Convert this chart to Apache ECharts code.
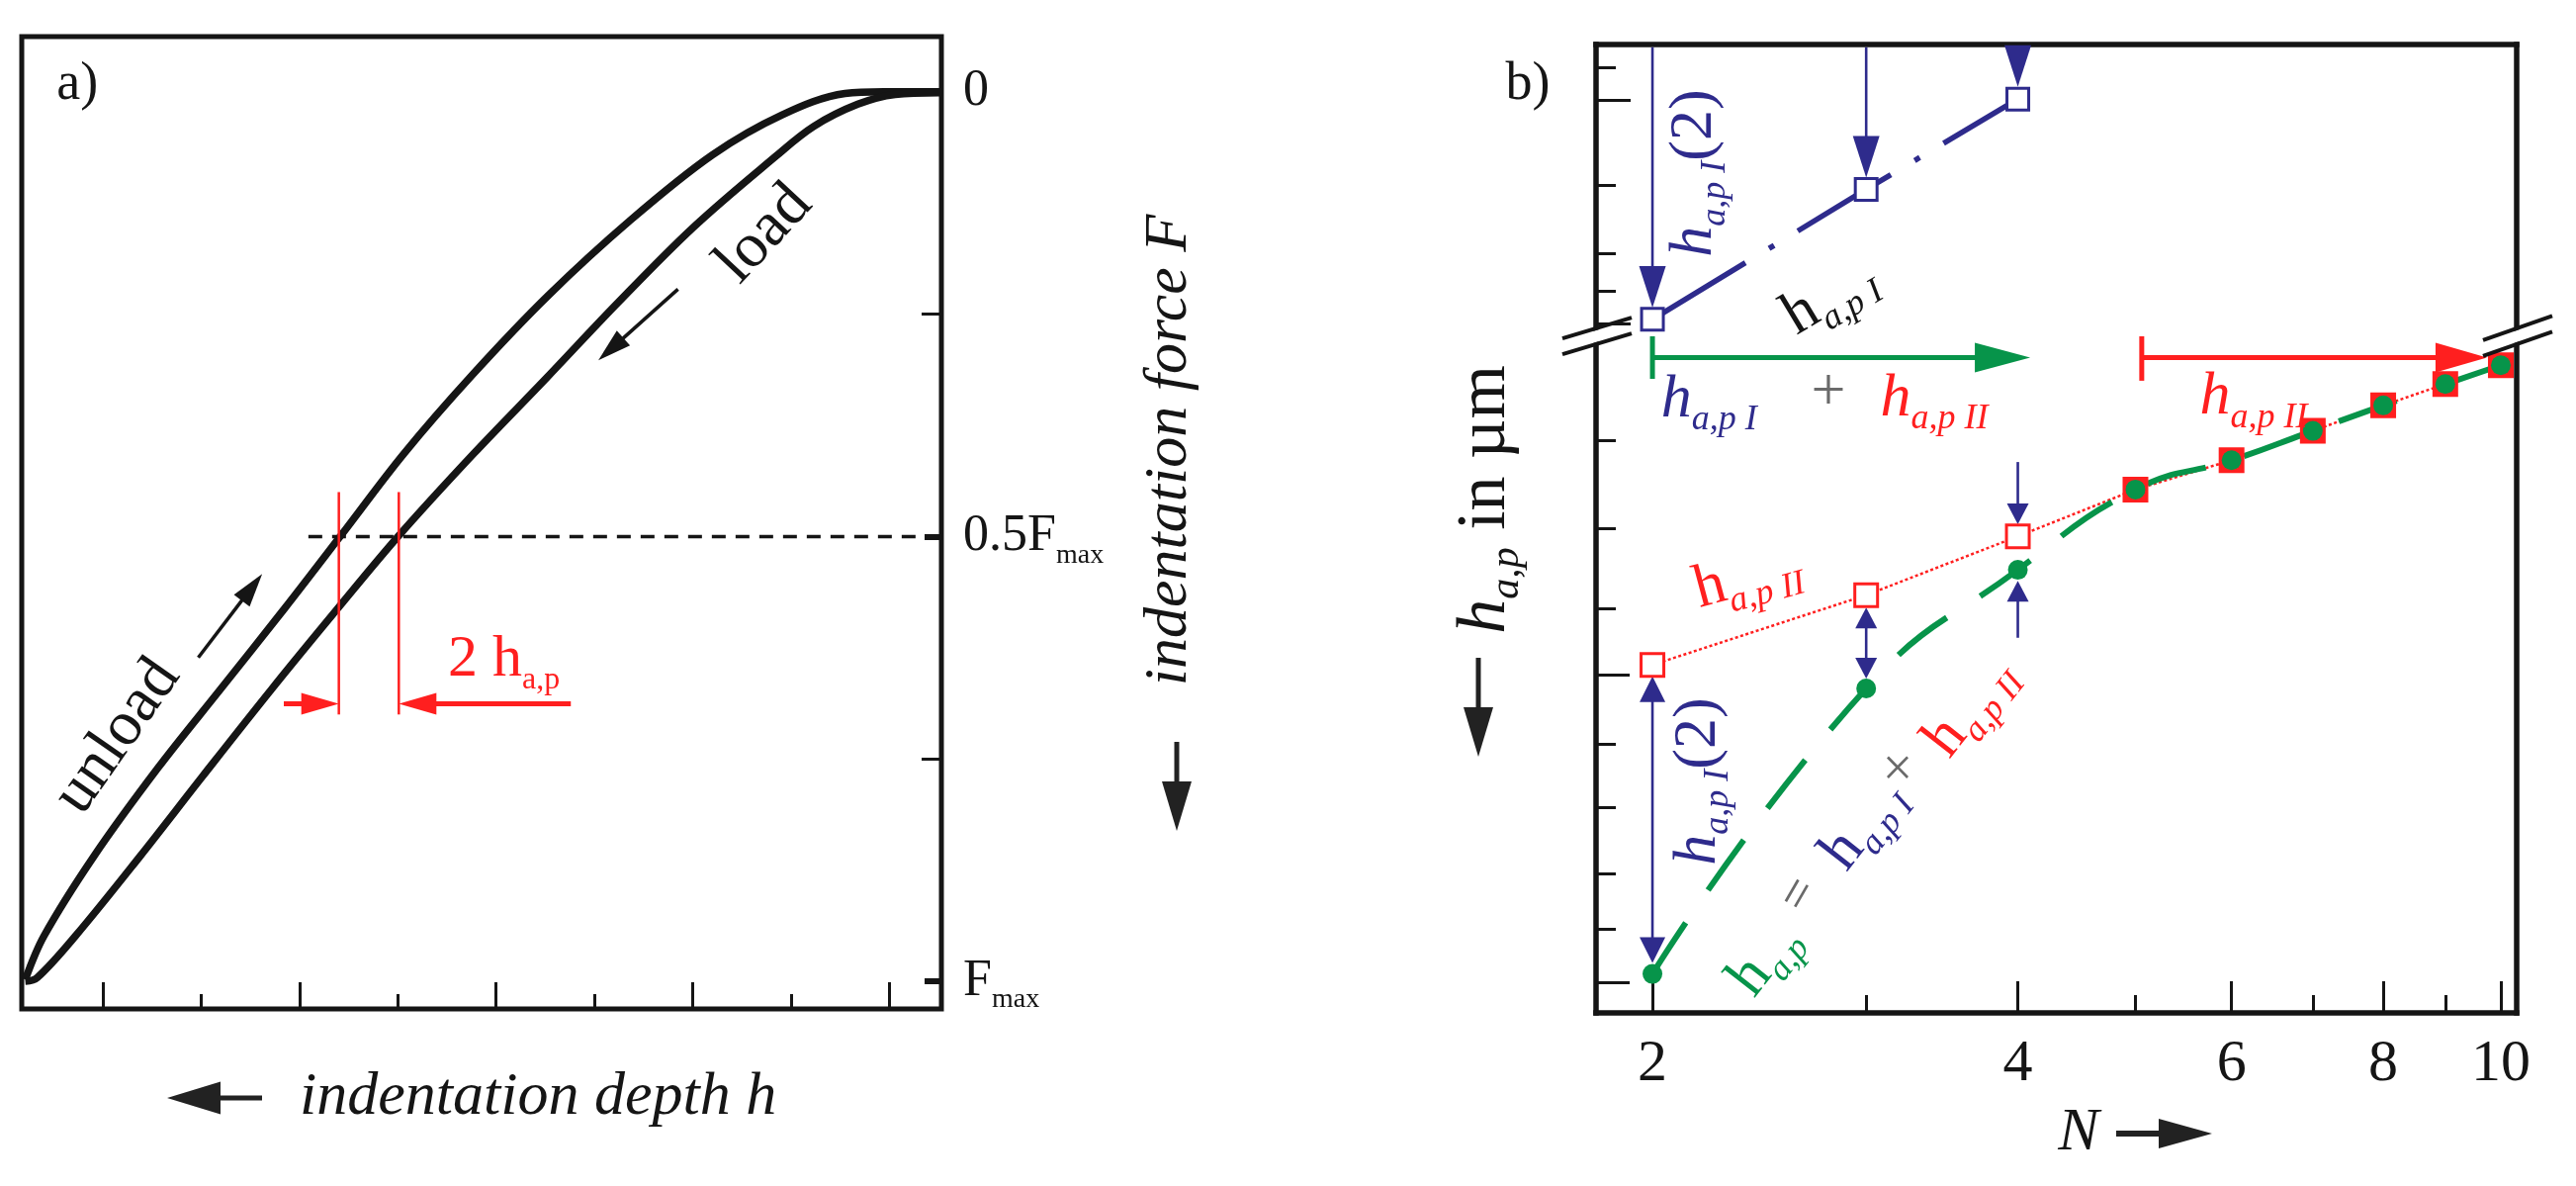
<!DOCTYPE html>
<html>
<head>
<meta charset="utf-8">
<title>Indentation loop and h_a,p versus N</title>
<script src="https://cdn.jsdelivr.net/npm/echarts@6.0.0/dist/echarts.min.js"></script>
<style>
  html, body { margin: 0; padding: 0; background: #ffffff; }
  #chart { width: 2605px; height: 1199px; }
</style>
</head>
<body>
<div id="chart"></div>
<script>
// ================= VALUES =================
// ---- panel a: force–depth loop (depth in tick units, force as fraction of Fmax)
const unloadDepth = [0.02, 0.59, 0.98, 1.62, 2.33, 3.16, 4.00, 4.77, 5.47, 6.11, 6.69, 7.33, 7.97, 8.62, 9.13, 9.32];
const unloadForce = [0.000, 0.000, 0.002, 0.026, 0.071, 0.144, 0.229, 0.318, 0.407, 0.499, 0.582, 0.671, 0.760, 0.859, 0.949, 0.998];
const loadDepth = [0.02, 0.47, 0.85, 1.30, 1.69, 2.52, 3.29, 4.02, 4.76, 5.52, 6.15, 6.81, 7.52, 8.15, 8.81, 9.20, 9.32];
const loadForce = [0.001, 0.003, 0.014, 0.039, 0.073, 0.152, 0.237, 0.322, 0.407, 0.499, 0.582, 0.671, 0.770, 0.859, 0.949, 0.996, 1.000];
const depthRange = [0, 9.356];
const forceRange = [-0.062, 1.031];
const depthTicksLong = [0.53, 2.53, 4.53, 6.53, 8.53];
const depthTicksShort = [1.53, 3.53, 5.53, 7.53];
const forceTicksThin = [0.25, 0.75];
const forceTicksThick = [0.5, 1];
const forceLabelValues = [0, 0.5, 1];
const halfLoadDepths = [6.44, 0];
const halfLoadForce = 0.5;
const hapMarkerDepths = [6.13, 5.52];
const hapMarkerForces = [0.45, 0.70];
const hapArrowForce = 0.688;
const hapArrowDepths = [[6.69, 6.13], [3.77, 5.52]];
const loadArrow = [2.68, 0.222, 3.49, 0.302];
const unloadArrow = [7.56, 0.636, 6.91, 0.542];

// ---- panel b: h_a,p versus N (log–log, broken ordinate)
const cyclesN = [2, 3, 4, 5, 6, 7, 8, 9, 10];
const hapI = [1.347, 1.170, 1.061];            // N = 2, 3, 4 (upper part of the broken axis)
const hapII = [1.276, 1.183, 1.110, 1.055, 1.022, 0.990, 0.963, 0.941, 0.922];
const hap = [1.784, 1.309, 1.151, 1.055, 1.022, 0.990, 0.963, 0.941, 0.922];
const nRange = [1.797, 10.305];
const upperRange = [1.0, 1.372];
const lowerRange = [0.8935, 1.861];
const nTickLabels = [2, 4, 6, 8, 10];
const nTicksMinor = [3, 5, 7, 9];
const upperTicksShort = [1.025, 1.165, 1.254, 1.307];
const upperTicksLong = [1.062, 1.353];
const lowerTicksShort = [1.0, 1.1, 1.2, 1.39, 1.49, 1.6, 1.7];
const lowerTicksLong = [1.29, 1.8];
// arrows: [N1, h1, N2, h2, headAtStart, headAtEnd]
const blueArrowsUpper = [[2, 1.003, 2, 1.330, 0, 1], [3, 1.003, 3, 1.155, 0, 1], [4, 1.003, 4, 1.047, 0, 1]];
const blueArrowN2 = [[2, 1.292, 2, 1.763, 1, 1]];
const blueArrowsN34 = [[3, 1.199, 3, 1.295, 1, 1], [4, 1.024, 4, 1.0955, 0, 1], [4, 1.239, 4, 1.165, 0, 1]];
const greenArrow = [[2, 0.9144, 4.095, 0.9144, 0, 1]];
const greenBar = [[2, 0.8935, 2, 0.9357, 0, 0]];
const redArrow = [[5.06, 0.9144, 9.74, 0.9144, 0, 1]];
const redBar = [[5.06, 0.8935, 5.06, 0.9376, 0, 0]];

// ================= STYLE / LAYOUT =================
const FONT = '"Liberation Serif", "DejaVu Serif", serif';
const INK = '#151515', NAVY = '#2e2b8c', RED = '#ff1f1f', GREEN = '#07944a', GRAY = '#6a6a6a';
const gridA = { left: 22, top: 37, width: 930, height: 983 };
const gridBUp = { left: 1614, top: 45, width: 931, height: 295 };
const gridBLo = { left: 1614, top: 340, width: 931, height: 684 };

function zrRich(F, s) {
  const colors = { N: NAVY, R: RED, G: GREEN, K: INK, Y: GRAY };
  const rich = {};
  Object.keys(colors).forEach(function (k) {
    const c = colors[k];
    rich['i' + k] = { fill: c, fontFamily: FONT, fontSize: F, fontStyle: 'italic', lineHeight: F + 14 };
    rich['u' + k] = { fill: c, fontFamily: FONT, fontSize: F, lineHeight: F + 14 };
    rich['s' + k] = { fill: c, fontFamily: FONT, fontSize: s, fontStyle: 'italic', lineHeight: s, verticalAlign: 'bottom' };
    rich['t' + k] = { fill: c, fontFamily: FONT, fontSize: s, lineHeight: s, verticalAlign: 'bottom' };
  });
  return rich;
}
const RICH_H = zrRich(62, 36);
const RICH_A = zrRich(60, 32);
const RICH_L = zrRich(64, 34);
const RICH_T = zrRich(54, 30);

// annotation texts (anchor in data units of the panel they belong to)
const labelsA = [
  { at: [8.79, -0.008], rot: 0, text: '{uK|a)}', rich: RICH_T },
  { at: [1.80, 0.160], rot: 47, text: '{uK|load}', rich: RICH_L },
  { at: [8.38, 0.725], rot: 55, text: '{uK|unload}', rich: RICH_L },
  { at: [5.02, 0.6385], rot: 0, align: 'left', text: '{uR|2 h}{tR|a,p}', rich: RICH_A }
];
const labelsUpper = [
  { at: [2.168, 1.1496], rot: 90, text: '{iN|h}{sN|a,p I}{uN|(2)}', rich: RICH_H },
  { at: [2.798, 1.3146], rot: 31, text: '{uK|h}{sK|a,p I}', rich: RICH_H }
];
const labelsLower = [
  { at: [2.226, 0.958], rot: 0, text: '{iN|h}{sN|a,p I}', rich: RICH_H },
  { at: [2.793, 0.951], rot: 0, text: '{uY|+}', rich: RICH_H },
  { at: [3.414, 0.957], rot: 0, text: '{iR|h}{sR|a,p II}', rich: RICH_H },
  { at: [6.256, 0.955], rot: 0, text: '{iR|h}{sR|a,p II}', rich: RICH_H },
  { at: [2.395, 1.161], rot: 15, text: '{uR|h}{sR|a,p II}', rich: RICH_H },
  { at: [3.652, 1.336], rot: 52, text: '{uR|h}{sR|a,p II}', rich: RICH_H },
  { at: [3.185, 1.432], rot: 0, text: '{uY|×}', rich: RICH_T },
  { at: [2.983, 1.518], rot: 52, text: '{uN|h}{sN|a,p I}', rich: RICH_H },
  { at: [2.645, 1.638], rot: 60, text: '{uY|=}', rich: RICH_T },
  { at: [2.473, 1.756], rot: 52, text: '{uG|h}{sG|a,p}', rich: RICH_H },
  { at: [2.181, 1.448], rot: 90, text: '{iN|h}{sN|a,p I}{uN|(2)}', rich: RICH_H }
];

// ================= HELPERS =================
function arrowSeries(name, xIdx, yIdx, data, st) {
  return {
    type: 'custom', name: name, xAxisIndex: xIdx, yAxisIndex: yIdx, clip: false, silent: true,
    z: st.z || 4, data: data,
    renderItem: function (params, api) {
      const a = api.coord([api.value(0), api.value(1)]);
      const b = api.coord([api.value(2), api.value(3)]);
      const hs = api.value(4), he = api.value(5);
      const dx = b[0] - a[0], dy = b[1] - a[1];
      const len = Math.hypot(dx, dy) || 1;
      const ux = dx / len, uy = dy / len, px = -uy, py = ux;
      const L = st.headLen, W = st.headWidth;
      const s0 = hs ? [a[0] + ux * L * 0.85, a[1] + uy * L * 0.85] : a;
      const s1 = he ? [b[0] - ux * L * 0.85, b[1] - uy * L * 0.85] : b;
      const children = [{
        type: 'line', shape: { x1: s0[0], y1: s0[1], x2: s1[0], y2: s1[1] },
        style: { stroke: st.color, lineWidth: st.lineWidth, lineCap: 'butt' }
      }];
      function head(tip, sx, sy) {
        return {
          type: 'polygon',
          shape: { points: [[tip[0], tip[1]],
            [tip[0] - sx * L + px * W / 2, tip[1] - sy * L + py * W / 2],
            [tip[0] - sx * L - px * W / 2, tip[1] - sy * L - py * W / 2]] },
          style: { fill: st.color }
        };
      }
      if (he) children.push(head(b, ux, uy));
      if (hs) children.push(head(a, -ux, -uy));
      return { type: 'group', children: children };
    }
  };
}

function textSeries(name, xIdx, yIdx, items) {
  return {
    type: 'custom', name: name, xAxisIndex: xIdx, yAxisIndex: yIdx, clip: false, silent: true, z: 9,
    data: items.map(function (it) { return it.at; }),
    renderItem: function (params, api) {
      const it = items[params.dataIndex];
      const p = api.coord([api.value(0), api.value(1)]);
      return {
        type: 'text', x: p[0], y: p[1], rotation: (it.rot || 0) * Math.PI / 180,
        style: { text: it.text, rich: it.rich, align: it.align || 'center', verticalAlign: 'middle' }
      };
    }
  };
}

function axisBase(extra) {
  return Object.assign({
    splitLine: { show: false }, axisLabel: { show: false }, axisTick: { show: false },
    axisLine: { show: false, onZero: false }, axisPointer: { show: false }, silent: true
  }, extra);
}
const boxLine = { show: true, onZero: false, lineStyle: { color: INK, width: 5.5, cap: 'square' } };

function gArrow(x1, y1, x2, y2, L, W, lw, color) {
  const dx = x2 - x1, dy = y2 - y1, len = Math.hypot(dx, dy);
  const ux = dx / len, uy = dy / len, px = -uy, py = ux;
  return [
    { type: 'line', shape: { x1: x1, y1: y1, x2: x2 - ux * L * 0.85, y2: y2 - uy * L * 0.85 },
      style: { stroke: color, lineWidth: lw } },
    { type: 'polygon', shape: { points: [[x2, y2],
      [x2 - ux * L + px * W / 2, y2 - uy * L + py * W / 2],
      [x2 - ux * L - px * W / 2, y2 - uy * L - py * W / 2]] }, style: { fill: color } }
  ];
}
function breakMark(x, y, slope) {
  const l1 = function (t, o) { return [x + t, y - 8 + slope * t + o]; };
  const l2 = function (t, o) { return [x + t, y + 8 + slope * t + o]; };
  return [
    { type: 'polygon', z: 100, shape: { points: [l1(-10, 2), l1(10, 2), l2(10, -2), l2(-10, -2)] }, style: { fill: '#ffffff' } },
    { type: 'line', z: 101, shape: { x1: l1(-34, 0)[0], y1: l1(-34, 0)[1], x2: l1(36, 0)[0], y2: l1(36, 0)[1] }, style: { stroke: INK, lineWidth: 4 } },
    { type: 'line', z: 101, shape: { x1: l2(-34, 0)[0], y1: l2(-34, 0)[1], x2: l2(36, 0)[0], y2: l2(36, 0)[1] }, style: { stroke: INK, lineWidth: 4 } }
  ];
}

// ================= OPTION =================
const option = {
  animation: false,
  backgroundColor: '#ffffff',
  grid: [
    Object.assign({ show: true, borderColor: INK, borderWidth: 5, backgroundColor: 'transparent', containLabel: false, outerBoundsMode: 'none' }, gridA),
    Object.assign({ show: false, containLabel: false, outerBoundsMode: 'none' }, gridBUp),
    Object.assign({ show: false, containLabel: false, outerBoundsMode: 'none' }, gridBLo)
  ],
  xAxis: [
    axisBase({ type: 'value', gridIndex: 0, position: 'bottom', inverse: true, min: depthRange[0], max: depthRange[1],
      axisTick: { show: true, inside: true, length: 27, customValues: depthTicksLong, lineStyle: { color: INK, width: 3 } } }),
    axisBase({ type: 'value', gridIndex: 0, position: 'bottom', inverse: true, min: depthRange[0], max: depthRange[1],
      axisTick: { show: true, inside: true, length: 15, customValues: depthTicksShort, lineStyle: { color: INK, width: 3 } } }),
    axisBase({ type: 'log', gridIndex: 1, position: 'top', min: nRange[0], max: nRange[1], axisLine: boxLine }),
    axisBase({ type: 'log', gridIndex: 2, position: 'bottom', min: nRange[0], max: nRange[1], axisLine: boxLine,
      axisTick: { show: true, inside: true, length: 32, customValues: nTickLabels, lineStyle: { color: INK, width: 3 } },
      axisLabel: { show: true, customValues: nTickLabels, margin: 22, fontSize: 60, fontFamily: FONT, color: INK,
        formatter: function (v) { return String(Math.round(v)); } } }),
    axisBase({ type: 'log', gridIndex: 2, position: 'bottom', min: nRange[0], max: nRange[1],
      axisTick: { show: true, inside: true, length: 18, customValues: nTicksMinor, lineStyle: { color: INK, width: 3 } } })
  ],
  yAxis: [
    axisBase({ type: 'value', gridIndex: 0, position: 'right', inverse: true, min: forceRange[0], max: forceRange[1],
      axisTick: { show: true, inside: true, length: 20, customValues: forceTicksThin, lineStyle: { color: INK, width: 3 } },
      axisLabel: { show: true, customValues: forceLabelValues, margin: 22,
        formatter: function (v) { return v === 0 ? '{n|0}' : (v === 0.5 ? '{n|0.5F}{s|max}' : '{n|F}{s|max}'); },
        rich: { n: { fontFamily: FONT, fontSize: 52, color: INK, lineHeight: 66 },
                s: { fontFamily: FONT, fontSize: 28, color: INK, lineHeight: 28, verticalAlign: 'bottom' } } } }),
    axisBase({ type: 'value', gridIndex: 0, position: 'right', inverse: true, min: forceRange[0], max: forceRange[1],
      axisTick: { show: true, inside: true, length: 17, customValues: forceTicksThick, lineStyle: { color: INK, width: 6 } } }),
    axisBase({ type: 'log', gridIndex: 1, position: 'left', inverse: true, min: upperRange[0], max: upperRange[1], axisLine: boxLine,
      axisTick: { show: true, inside: true, length: 20, customValues: upperTicksShort, lineStyle: { color: INK, width: 3 } } }),
    axisBase({ type: 'log', gridIndex: 1, position: 'left', inverse: true, min: upperRange[0], max: upperRange[1],
      axisTick: { show: true, inside: true, length: 35, customValues: upperTicksLong, lineStyle: { color: INK, width: 3 } } }),
    axisBase({ type: 'log', gridIndex: 1, position: 'right', inverse: true, min: upperRange[0], max: upperRange[1], axisLine: boxLine }),
    axisBase({ type: 'log', gridIndex: 2, position: 'left', inverse: true, min: lowerRange[0], max: lowerRange[1], axisLine: boxLine,
      axisTick: { show: true, inside: true, length: 20, customValues: lowerTicksShort, lineStyle: { color: INK, width: 3 } } }),
    axisBase({ type: 'log', gridIndex: 2, position: 'left', inverse: true, min: lowerRange[0], max: lowerRange[1],
      axisTick: { show: true, inside: true, length: 34, customValues: lowerTicksLong, lineStyle: { color: INK, width: 3 } } }),
    axisBase({ type: 'log', gridIndex: 2, position: 'right', inverse: true, min: lowerRange[0], max: lowerRange[1], axisLine: boxLine })
  ],
  series: [
    // ---- panel a
    { type: 'line', name: 'unload', xAxisIndex: 0, yAxisIndex: 0, silent: true, z: 3, symbol: 'none', smooth: 0.35,
      data: unloadDepth.map(function (h, i) { return [h, unloadForce[i]]; }),
      lineStyle: { color: INK, width: 7.5 } },
    { type: 'line', name: 'load', xAxisIndex: 0, yAxisIndex: 0, silent: true, z: 3, symbol: 'none', smooth: 0.35,
      data: loadDepth.map(function (h, i) { return [h, loadForce[i]]; }),
      lineStyle: { color: INK, width: 7.5 } },
    { type: 'line', name: '0.5 Fmax', xAxisIndex: 0, yAxisIndex: 0, silent: true, z: 2, symbol: 'none',
      data: halfLoadDepths.map(function (h) { return [h, halfLoadForce]; }),
      lineStyle: { color: INK, width: 3.5, type: [14, 10] } },
    arrowSeries('hap markers', 0, 0, hapMarkerDepths.map(function (h) { return [h, hapMarkerForces[0], h, hapMarkerForces[1], 0, 0]; }),
      { color: RED, lineWidth: 2.5, headLen: 0, headWidth: 0, z: 4 }),
    arrowSeries('hap arrows', 0, 0, hapArrowDepths.map(function (d) { return [d[0], hapArrowForce, d[1], hapArrowForce, 0, 1]; }),
      { color: RED, lineWidth: 5, headLen: 38, headWidth: 22, z: 5 }),
    arrowSeries('direction arrows', 0, 0, [loadArrow.concat([0, 1]), unloadArrow.concat([0, 1])],
      { color: INK, lineWidth: 3.5, headLen: 34, headWidth: 20, z: 5 }),
    textSeries('labels a', 0, 0, labelsA),

    // ---- panel b
    { type: 'line', name: 'h_a,pI', xAxisIndex: 2, yAxisIndex: 2, silent: true, z: 2, symbol: 'none',
      data: hapI.map(function (v, i) { return [cyclesN[i], v]; }),
      lineStyle: { color: NAVY, width: 5.5, type: [110, 28, 6, 28], cap: 'butt' } },
    { type: 'line', name: 'h_a,pII', xAxisIndex: 3, yAxisIndex: 5, silent: true, z: 2, symbol: 'none',
      data: hapII.map(function (v, i) { return [cyclesN[i], v]; }),
      lineStyle: { color: RED, width: 2.5, type: [3, 2.5] } },
    { type: 'line', name: 'h_a,p', xAxisIndex: 3, yAxisIndex: 5, silent: true, z: 3, symbol: 'none', smooth: 0.5,
      data: hap.map(function (v, i) { return [cyclesN[i], v]; }),
      lineStyle: { color: GREEN, width: 6, type: [62, 40], cap: 'butt' } },
    arrowSeries('blue arrows upper', 2, 2, blueArrowsUpper, { color: NAVY, lineWidth: 2.6, headLen: 42, headWidth: 27, z: 4 }),
    arrowSeries('blue arrow N2', 3, 5, blueArrowN2, { color: NAVY, lineWidth: 2.6, headLen: 26, headWidth: 26, z: 4 }),
    arrowSeries('blue arrows N3 N4', 3, 5, blueArrowsN34, { color: NAVY, lineWidth: 2.6, headLen: 21, headWidth: 22, z: 4 }),
    arrowSeries('green arrow', 3, 5, greenArrow, { color: GREEN, lineWidth: 5, headLen: 56, headWidth: 30, z: 4 }),
    arrowSeries('green bar', 3, 5, greenBar, { color: GREEN, lineWidth: 5, headLen: 0, headWidth: 0, z: 4 }),
    arrowSeries('red arrow', 3, 5, redArrow, { color: RED, lineWidth: 5, headLen: 52, headWidth: 30, z: 4 }),
    arrowSeries('red bar', 3, 5, redBar, { color: RED, lineWidth: 5, headLen: 0, headWidth: 0, z: 4 }),
    { type: 'scatter', name: 'h_a,pI points', xAxisIndex: 2, yAxisIndex: 2, silent: true, z: 6, symbol: 'rect', symbolSize: 22,
      data: hapI.map(function (v, i) { return [cyclesN[i], v]; }),
      itemStyle: { color: '#ffffff', borderColor: NAVY, borderWidth: 3, opacity: 1 } },
    { type: 'scatter', name: 'h_a,pII points', xAxisIndex: 3, yAxisIndex: 5, silent: true, z: 6, symbol: 'rect', symbolSize: 23,
      data: hapII.map(function (v, i) {
        return { value: [cyclesN[i], v], itemStyle: cyclesN[i] >= 5 ? { color: RED } : { color: '#ffffff' } };
      }),
      itemStyle: { color: '#ffffff', borderColor: RED, borderWidth: 3, opacity: 1 } },
    { type: 'scatter', name: 'h_a,p points', xAxisIndex: 3, yAxisIndex: 5, silent: true, z: 7, symbol: 'circle', symbolSize: 20,
      data: hap.map(function (v, i) { return [cyclesN[i], v]; }),
      itemStyle: { color: GREEN, opacity: 1 } },
    textSeries('labels upper', 2, 2, labelsUpper),
    textSeries('labels lower', 3, 5, labelsLower)
  ],
  graphic: {
    elements: [
      { type: 'text', x: 1545, y: 86, style: { text: 'b)', font: '54px ' + FONT, fill: INK, align: 'center', verticalAlign: 'middle' } },
      { type: 'text', x: 303, y: 1110, style: { text: 'indentation depth h', font: 'italic 62px ' + FONT, fill: INK, align: 'left', verticalAlign: 'middle' } },
      { type: 'text', x: 1183, y: 455, rotation: Math.PI / 2, style: { text: 'indentation force F', font: 'italic 62px ' + FONT, fill: INK, align: 'center', verticalAlign: 'middle' } },
      { type: 'text', x: 1503, y: 505, rotation: Math.PI / 2,
        style: { text: '{h|h}{s|a,p}{u| in µm}', align: 'center', verticalAlign: 'middle',
          rich: { h: { fill: INK, fontFamily: FONT, fontSize: 70, fontStyle: 'italic', lineHeight: 84 },
                  s: { fill: INK, fontFamily: FONT, fontSize: 42, fontStyle: 'italic', lineHeight: 42, verticalAlign: 'bottom' },
                  u: { fill: INK, fontFamily: FONT, fontSize: 70, lineHeight: 84 } } } },
      { type: 'text', x: 2102, y: 1146, style: { text: 'N', font: 'italic 62px ' + FONT, fill: INK, align: 'center', verticalAlign: 'middle' } }
    ]
      .concat(gArrow(265, 1110, 169, 1110, 54, 33, 5, '#222'))
      .concat(gArrow(1190, 750, 1190, 840, 50, 30, 5, '#222'))
      .concat(gArrow(1495, 665, 1495, 765, 50, 30, 5, '#222'))
      .concat(gArrow(2140, 1146, 2237, 1146, 54, 30, 6, '#222'))
      .concat(breakMark(gridBLo.left, gridBLo.top, -0.3))
      .concat(breakMark(gridBLo.left + gridBLo.width, gridBLo.top, -0.35))
  }
};

const chart = echarts.init(document.getElementById('chart'), null, { renderer: 'canvas' });
chart.setOption(option);
</script>
</body>
</html>
